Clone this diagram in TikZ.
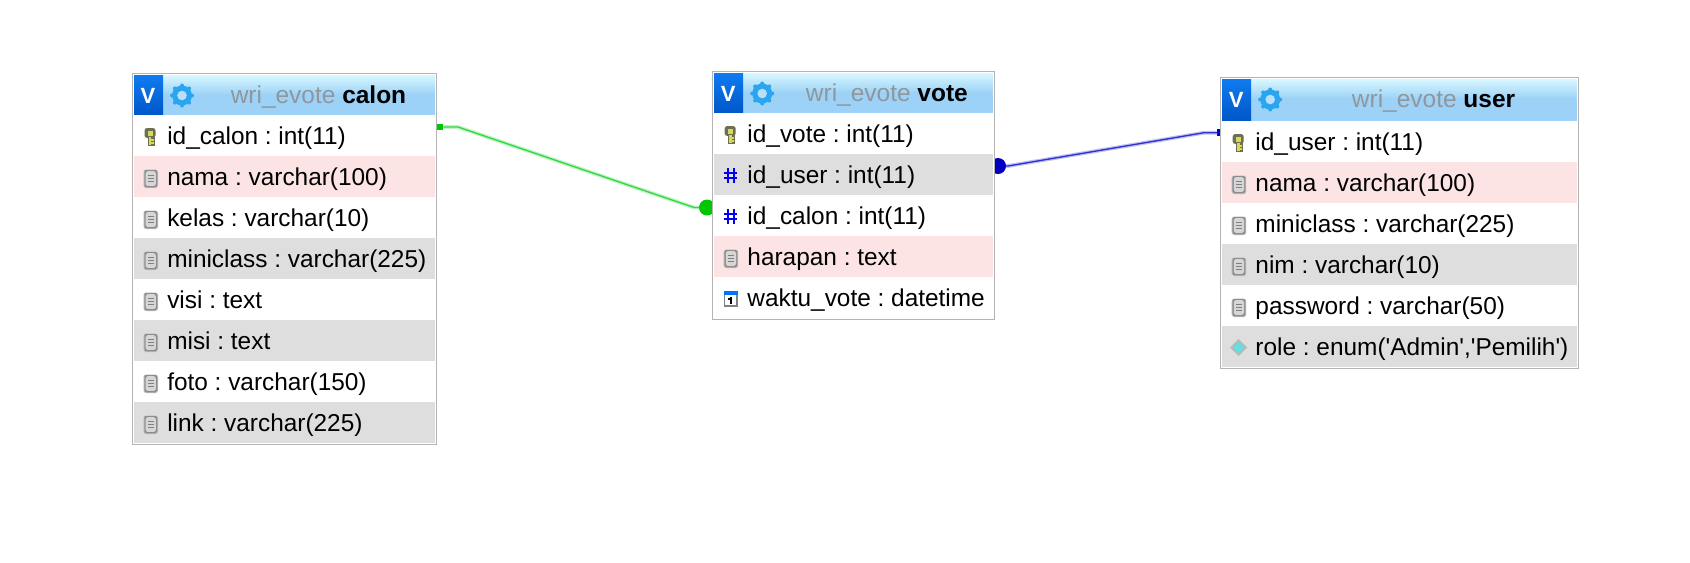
\documentclass[tikz,border=0pt]{standalone}
\usepackage{fontspec}
\setmainfont{Liberation Sans}
\newfontfamily\plainquotes{Liberation Sans}
\usetikzlibrary{calc}
\frenchspacing
\definecolor{hdrtop}{HTML}{D8F8FF}
\definecolor{hdrbot}{HTML}{9CD2F7}
\definecolor{tblborder}{HTML}{B4B4B4}
\definecolor{rowpink}{HTML}{FDE4E4}
\definecolor{rowgrey}{HTML}{DEDEDE}
\definecolor{rowwhite}{HTML}{FFFFFF}
\definecolor{vtop}{HTML}{0F7BF0}
\definecolor{vbot}{HTML}{0057C8}
\definecolor{gearblue}{HTML}{2AA5F0}
\definecolor{greenline}{HTML}{33D944}
\definecolor{greenend}{HTML}{00C800}
\definecolor{blueline}{HTML}{3030D4}
\definecolor{blueend}{HTML}{0000C0}
\definecolor{titlegrey}{HTML}{8F979C}
\definecolor{keyfill}{HTML}{D8D860}
\definecolor{keyedge}{HTML}{6E6E50}
\definecolor{rolecyan}{HTML}{62E0E0}
\tikzset{
  x=0.75pt,y=-0.75pt,
  tbltext/.style={font=\fontsize{18.3}{20}\selectfont,text=black,anchor=base west,inner sep=0pt},
  tbltitle/.style={font=\fontsize{18.35}{20}\selectfont,text=titlegrey,anchor=base west,inner sep=0pt},
  tblframe/.style={draw=tblborder,line width=0.75pt,fill=white,anchor=north west,inner sep=0pt,outer sep=0pt},
  glow/.style={line width=2.8pt,opacity=0.3,line join=round},
  core/.style={line width=1pt,line join=round},
  endsquare/.style={fill=greenend,inner sep=0pt,minimum size=5.2pt,outer sep=0pt},
  endround/.style={circle,fill=#1,inner sep=0pt,minimum size=12pt,outer sep=0pt},
  endbar/.style={fill=blueend,inner sep=0pt,minimum width=1.8pt,minimum height=5.6pt,outer sep=0pt},
}
\newcommand{\iconfile}[2]{%
  \fill[black!30,rounded corners=2pt] (#1-7,#2-8) rectangle (#1+7.5,#2+10.5);
  \fill[black!45,rounded corners=1.6pt] (#1-6,#2-7.5) rectangle (#1+6.5,#2+9.5);
  \fill[black!16,rounded corners=1.2pt] (#1-4.8,#2-6.3) rectangle (#1+5.3,#2+8.3);
  \foreach \d in {-3,0,3}{\draw[black!50,line width=0.6pt] (#1-2.5,#2+\d+1) -- (#1+3.5,#2+\d+1);}
}
\newcommand{\iconkey}[2]{%
  \fill[keyedge,rounded corners=2pt] (#1-6,#2-8.5) rectangle (#1+5,#2+1.5);
  \fill[keyfill] (#1-3,#2-6) rectangle (#1+2.5,#2-.8);
  \fill[keyedge] (#1-3,#2) rectangle (#1+4.5,#2+9.5);
  \fill[keyfill] (#1-1.5,#2) rectangle (#1+.8,#2+8);
  \fill[keyfill] (#1+.8,#2+2.5) rectangle (#1+3,#2+4);
  \fill[keyfill] (#1+.8,#2+5.5) rectangle (#1+3,#2+7);
}
\newcommand{\iconhash}[2]{%
  \draw[blue!95!black,line width=1.5pt] (#1-2.8,#2-7.5) -- (#1-2.8,#2+7.5) (#1+2.8,#2-7.5) -- (#1+2.8,#2+7.5)
     (#1-6.5,#2-2.8) -- (#1+6.5,#2-2.8) (#1-6.5,#2+2.8) -- (#1+6.5,#2+2.8);
}
\newcommand{\iconcal}[2]{%
  \fill[black!50] (#1-7,#2-8) rectangle (#1+7,#2+8);
  \fill[white] (#1-5.5,#2-4) rectangle (#1+5.5,#2+6.5);
  \fill[blue!55!cyan] (#1-7,#2-8) rectangle (#1+7,#2-4);
  \fill[black] (#1-1,#2-2) rectangle (#1+1.2,#2+5);
  \fill[black] (#1-3,#2-.5) rectangle (#1,#2+1);
}
\newcommand{\icondiamond}[2]{%
  \fill[black!28] (#1,#2-8.5) -- (#1+8.5,#2) -- (#1,#2+8.5) -- (#1-8.5,#2) -- cycle;
  \fill[rolecyan] (#1,#2-5.5) -- (#1+5.5,#2) -- (#1,#2+5.5) -- (#1-5.5,#2) -- cycle;
}
% name, left, top, right, bottom, header bottom, title offset
\newcommand{\tblhead}[7]{%
  \node[tblframe,minimum width={(#4-#2)*0.75pt},minimum height={(#5-#3)*0.75pt}] (#1) at (#2,#3) {};
  \shade[top color=hdrtop,bottom color=hdrbot] (#2+1.5,#3+1.5) rectangle (#4-1.5,#3+21);
  \fill[hdrbot] (#2+1.5,#3+21) rectangle (#4-1.5,#6);
  \shade[top color=vtop,bottom color=vbot] (#2+1.5,#3+1.5) rectangle (#2+30.5,#6);
  \node[font=\fontsize{16.5}{16.5}\selectfont\bfseries,text=white,inner sep=0pt] (#1-v) at (#2+15.5,#3+22) {V};
  \fill[gearblue] (#2+49.5,#3+22) circle (10);
  \foreach \a in {0,45,...,315}{\fill[gearblue] ($(#2+49.5,#3+22)+(\a:10)$) circle (2);}
  \fill[hdrbot!70!white] (#2+49.5,#3+22) circle (4.8);
  \node[tbltitle] (#1-title) at (#2+#7,#3+29.5) {wri\_evote \textcolor{black}{\bfseries #1}};
}
% table, left, right, row top, colour, icon macro, name suffix, text
\newcommand{\trow}[8]{%
  \fill[#5] (#2+1.5,#4) rectangle (#3-1.5,#4+41);
  #6{#2+18}{#4+21.5}
  \node[tbltext] (#1-#7) at (#2+34.5,#4+29) {#8};
}
\begin{document}
\begin{tikzpicture}
\useasboundingbox (0,0) rectangle (1690,562);
\fill[white] (0,0) rectangle (1690,562);

% connector ends
\node[endsquare] (gs) at (440,127) {};
\node[endround=greenend] (gc) at (707,207.5) {};
\node[endround=blueend] (bc) at (998,166) {};
\node[endbar] (bb) at (1218.5,132.7) {};
\coordinate (g1) at (458,127);
\coordinate (g2) at (694,207.5);
\coordinate (b1) at (1008,166);
\coordinate (b2) at (1204,132.7);
\draw[glow,greenline] (gs) -- (g1) -- (g2) -- (gc);
\draw[core,greenline] (gs) -- (g1) -- (g2) -- (gc);
\draw[glow,blueline] (bc) -- (b1) -- (b2) -- (bb);
\draw[core,blueline] (bc) -- (b1) -- (b2) -- (bb);

% calon
\tblhead{calon}{132.5}{73.5}{436.5}{444}{115}{98}
\trow{calon}{132.5}{436.5}{115}{rowwhite}{\iconkey}{a}{id\_calon : int(11)}
\trow{calon}{132.5}{436.5}{156}{rowpink}{\iconfile}{b}{nama : varchar(100)}
\trow{calon}{132.5}{436.5}{197}{rowwhite}{\iconfile}{c}{kelas : varchar(10)}
\trow{calon}{132.5}{436.5}{238}{rowgrey}{\iconfile}{d}{miniclass : varchar(225)}
\trow{calon}{132.5}{436.5}{279}{rowwhite}{\iconfile}{e}{visi : text}
\trow{calon}{132.5}{436.5}{320}{rowgrey}{\iconfile}{f}{misi : text}
\trow{calon}{132.5}{436.5}{361}{rowwhite}{\iconfile}{g}{foto : varchar(150)}
\trow{calon}{132.5}{436.5}{402}{rowgrey}{\iconfile}{h}{link : varchar(225)}

% vote
\tblhead{vote}{712.7}{71.5}{994}{319}{113}{93}
\trow{vote}{712.7}{994}{113}{rowwhite}{\iconkey}{a}{id\_vote : int(11)}
\trow{vote}{712.7}{994}{154}{rowgrey}{\iconhash}{b}{id\_user : int(11)}
\trow{vote}{712.7}{994}{195}{rowwhite}{\iconhash}{c}{id\_calon : int(11)}
\trow{vote}{712.7}{994}{236}{rowpink}{\iconfile}{d}{harapan : text}
\trow{vote}{712.7}{994}{277}{rowwhite}{\iconcal}{e}{waktu\_vote : datetime}

% user
\tblhead{user}{1220.7}{77.5}{1578}{368}{121}{131}
\trow{user}{1220.7}{1578}{121}{rowwhite}{\iconkey}{a}{id\_user : int(11)}
\trow{user}{1220.7}{1578}{162}{rowpink}{\iconfile}{b}{nama : varchar(100)}
\trow{user}{1220.7}{1578}{203}{rowwhite}{\iconfile}{c}{miniclass : varchar(225)}
\trow{user}{1220.7}{1578}{244}{rowgrey}{\iconfile}{d}{nim : varchar(10)}
\trow{user}{1220.7}{1578}{285}{rowwhite}{\iconfile}{e}{password : varchar(50)}
\trow{user}{1220.7}{1578}{326}{rowgrey}{\icondiamond}{f}{\plainquotes role : enum('Admin','Pemilih')}
\end{tikzpicture}
\end{document}
